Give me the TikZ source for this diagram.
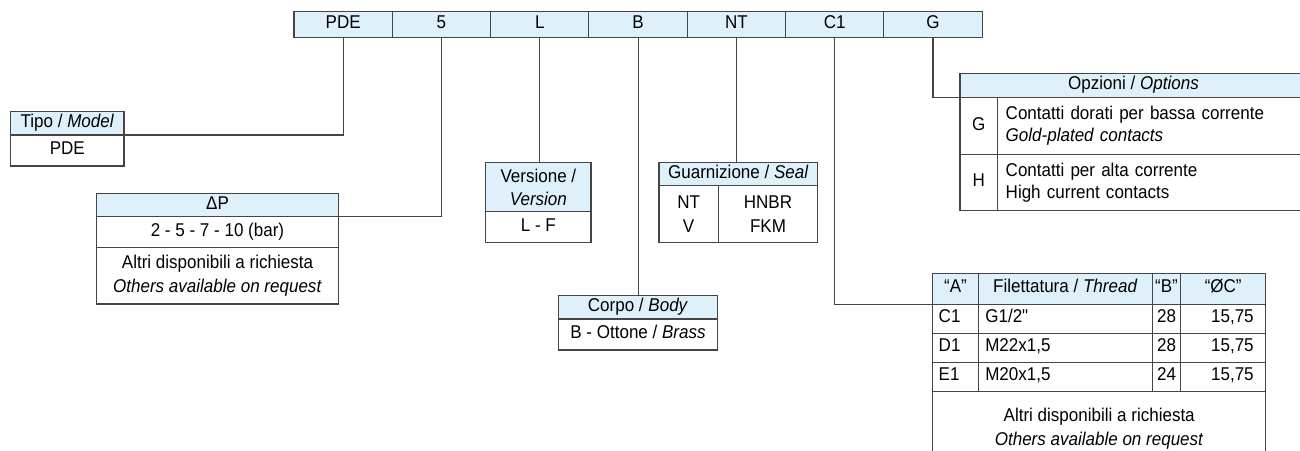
\documentclass[tikz,border=0pt]{standalone}
\usepackage{fontspec}
\setmainfont{Liberation Sans}[FakeStretch=0.92, Ligatures=TeXOff]
\usetikzlibrary{positioning}
\definecolor{headblue}{HTML}{DEF1FA}
\definecolor{rulegray}{HTML}{454545}
\begin{document}
\begin{tikzpicture}[x=1pt, y=-1pt, line width=1.1pt,
    font=\fontsize{18.5}{23.5}\selectfont,
    cell/.style={draw=rulegray, anchor=north west, inner sep=0pt, outer sep=0pt, align=center},
    head/.style={cell, fill=headblue},
    flat/.style={text height=13.2, text depth=5},
    link/.style={draw=rulegray}]
\useasboundingbox (0,0) rectangle (1300,450);

\foreach \n/\t [count=\i from 0] in {pde/PDE, dp/5, ver/L, body/B, seal/NT, thread/C1, opt/G}
{
    \node[head, flat, minimum width=98.3, minimum height=25.6] (c\n) at (294+98.3*\i,11.7) {\t};
}

\node[head, flat, minimum width=113.3, minimum height=23.3] (tipoH) at (10.7,111.7) {Tipo / \textit{Model}};
\node[cell, flat, below=0pt of tipoH, minimum width=113.3, minimum height=31] (tipoB) {PDE};

\node[head, flat, minimum width=241.6, minimum height=23.4] (dpH) at (96.7,193.3) {ΔP};
\node[cell, flat, below=0pt of dpH, minimum width=241.6, minimum height=31] (dpV) {2 - 5 - 7 - 10 (bar)};
\node[cell, below=0pt of dpV, minimum width=241.6, minimum height=56.3] (dpO) {Altri disponibili a richiesta\\\textit{Others available on request}};

\node[head, minimum width=105.3, minimum height=49] (verH) at (485.7,162.7) {Versione /\\\textit{Version}};
\node[cell, flat, below=0pt of verH, minimum width=105.3, minimum height=31] (verB) {L - F};

\node[head, flat, minimum width=158.6, minimum height=23.7] (bodyH) at (558.7,295.3) {Corpo / \textit{Body}};
\node[cell, flat, below=0pt of bodyH, minimum width=158.6, minimum height=31] (bodyB) {B - Ottone / \textit{Brass}};

\node[head, flat, minimum width=158.7, minimum height=23] (sealH) at (659,162.7) {Guarnizione / \textit{Seal}};
\node[cell, minimum width=59.3, minimum height=57] (sealC) at (sealH.south west) {NT\\V};
\node[cell, right=0pt of sealC, minimum width=99.4, minimum height=57] (sealM) {HNBR\\FKM};

\node[head, flat, minimum width=347, minimum height=24.4] (optH) at (960,73.3) {Opzioni / \textit{Options}};
\node[cell, flat, minimum width=37.7, minimum height=56.5] (optG) at (optH.south west) {G};
\node[cell, right=0pt of optG, minimum width=309.3, minimum height=56.5, text width=293.3, align=left,
    font=\fontsize{18.5}{22}\selectfont] (optGt) {Contatti dorati per bassa corrente\\\textit{Gold-plated contacts}};
\node[cell, flat, below=0pt of optG, minimum width=37.7, minimum height=56.5] (optHh) {H};
\node[cell, right=0pt of optHh, minimum width=309.3, minimum height=56.5, text width=293.3, align=left,
    font=\fontsize{18.5}{22}\selectfont] (optHt) {Contatti per alta corrente\\High current contacts};

\node[head, flat, minimum width=45.6, minimum height=31] (thA) at (932.7,273.3) {“A”};
\node[head, flat, right=0pt of thA, minimum width=174, minimum height=31] (thF) {Filettatura / \textit{Thread}};
\node[head, flat, right=0pt of thF, minimum width=28.4, minimum height=31] (thB) {“B”};
\node[head, flat, right=0pt of thB, minimum width=85, minimum height=31] (thC) {“ØC”};
\foreach \a/\f/\b/\c [count=\r from 0] in {C1/{G1/2"}/28/{15,75}, D1/{M22x1,5}/28/{15,75}, E1/{M20x1,5}/24/{15,75}}
{
    \node[cell, flat, minimum width=45.6, minimum height=29, text width=33.6, align=left] (ta\r) at (932.7,304.3+29*\r) {\a};
    \node[cell, flat, right=0pt of ta\r, minimum width=174, minimum height=29, text width=160, align=left] (tf\r) {\f};
    \node[cell, flat, right=0pt of tf\r, minimum width=28.4, minimum height=29] (tb\r) {\b};
    \node[cell, flat, right=0pt of tb\r, minimum width=85, minimum height=29, text width=61, align=right] (tc\r) {\c};
}
\node[cell, minimum width=333, minimum height=74.7] (thO) at (ta2.south west) {Altri disponibili a richiesta\\\textit{Others available on request}};

\draw[link] (cpde.south) |- (tipoH.south east);
\draw[link] (cdp.south) |- (dpH.south east);
\draw[link] (cver.south) -- (cver.south |- verH.north);
\draw[link] (cbody.south) -- (cbody.south |- bodyH.north);
\draw[link] (cseal.south) -- (cseal.south |- sealH.north);
\draw[link] (cthread.south) |- (thA.south west);
\draw[link] (copt.south) |- (optH.south west);
\end{tikzpicture}
\end{document}
